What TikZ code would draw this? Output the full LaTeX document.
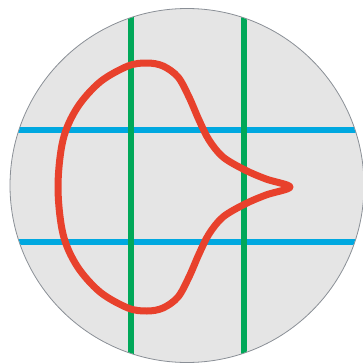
\documentclass[tikz,border=0pt]{standalone}
\usepackage{xcolor}
\definecolor{discgray}{HTML}{E5E5E5}
\definecolor{rimgray}{HTML}{8A8F96}
\definecolor{linegreen}{HTML}{00A859}
\definecolor{lineblue}{HTML}{00A8E0}
\definecolor{curvered}{HTML}{E8412C}
\begin{document}
\begin{tikzpicture}[x=1pt, y=-1pt, line width=6pt]
	\useasboundingbox (0,0) rectangle (362,364);
	\coordinate (centre) at (187,185.5);
	\fill[discgray, draw=rimgray, line width=0.8pt] (centre) circle (177);
	\begin{scope}
		\clip (centre) circle (176.6);
		\draw[lineblue] (0,130) -- (364,130);
		\draw[lineblue] (0,242) -- (364,242);
		\draw[linegreen] (131,0) -- (131,364);
		\draw[linegreen] (243.5,0) -- (243.5,364);
	\end{scope}
	\draw[curvered, line width=7pt, line join=round] plot[smooth cycle, tension=0.55] coordinates {
		(290,187) (266,195) (245,204) (223,217) (209,234) (199,254) (189,277)
		(178,297) (163,308) (147,311) (128,308) (100,292) (77,266) (63,234)
		(58,187) (63,140) (77,108) (100,82) (128,66) (147,63) (163,66)
		(178,77) (189,97) (199,120) (209,140) (223,157) (245,170) (266,179)};
\end{tikzpicture}
\end{document}
